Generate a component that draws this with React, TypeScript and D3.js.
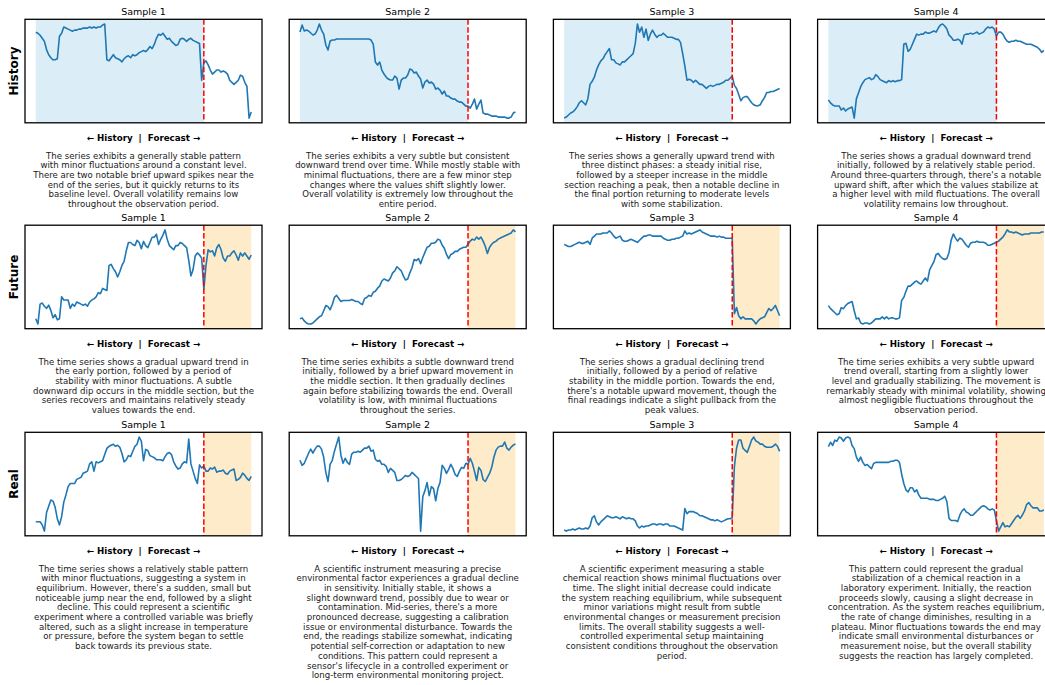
import { scaleLinear, extent, line as d3_line } from "d3";

// time axis: 101 evenly spaced steps, history ends at step 78
const STEPS = 100;
const BOUNDARY = 78;

// Row "History"
const hist1 = [90, 89, 87, 84, 81, 73, 68, 65, 63, 63, 64, 86, 89, 95, 94, 93, 92, 91, 92, 92, 93, 93, 94, 94, 94, 95, 94, 95, 94, 95, 95, 97, 98, 63, 62, 65, 68, 65, 64, 63, 61, 64, 66, 67, 65, 68, 67, 68, 70, 71, 72, 71, 73, 76, 74, 78, 84, 88, 87, 89, 86, 83, 84, 81, 79, 77, 78, 83, 84, 83, 81, 83, 84, 82, 81, 80, 79, 43, 60, 62, 58, 53, 49, 51, 53, 53, 51, 52, 51, 49, 43, 41, 39, 41, 43, 48, 47, 41, 37, 6, 12];
const hist2 = [91, 98, 92, 93, 92, 90, 88, 89, 93, 99, 93, 89, 78, 73, 82, 83, 83, 84, 84, 84, 84, 84, 84, 84, 84, 84, 84, 84, 84, 84, 84, 84, 84, 83, 79, 61, 58, 61, 53, 49, 46, 44, 43, 43, 47, 45, 34, 43, 45, 45, 48, 54, 53, 50, 51, 47, 44, 35, 41, 43, 40, 41, 39, 34, 35, 33, 29, 32, 27, 27, 25, 24, 24, 22, 21, 21, 19, 17, 17, 15, 19, 24, 14, 19, 23, 10, 9, 9, 8, 7, 7, 7, 6, 6, 6, 6, 5, 5, 6, 10, 11];
const hist3 = [6, 7, 9, 11, 12, 14, 17, 21, 23, 21, 19, 25, 39, 42, 46, 53, 58, 62, 64, 68, 71, 74, 63, 63, 60, 59, 58, 61, 61, 63, 65, 67, 69, 79, 98, 90, 95, 85, 93, 82, 88, 92, 88, 85, 87, 87, 89, 87, 85, 85, 85, 84, 83, 83, 80, 69, 57, 43, 44, 43, 41, 43, 41, 39, 39, 37, 35, 37, 38, 37, 38, 39, 39, 40, 41, 43, 43, 45, 47, 38, 35, 29, 23, 26, 27, 27, 24, 21, 19, 18, 18, 19, 23, 26, 31, 31, 32, 32, 33, 34, 35];
const hist4 = [24, 21, 19, 18, 18, 18, 14, 16, 13, 15, 16, 17, 6, 25, 31, 37, 41, 44, 45, 46, 44, 45, 49, 47, 44, 43, 42, 41, 43, 42, 43, 42, 43, 43, 44, 79, 80, 72, 74, 79, 84, 89, 88, 89, 89, 91, 90, 90, 91, 92, 91, 95, 98, 99, 97, 94, 88, 86, 83, 83, 84, 83, 79, 88, 89, 89, 90, 89, 90, 91, 89, 90, 91, 94, 96, 95, 96, 94, 87, 91, 91, 89, 85, 82, 81, 82, 82, 83, 82, 82, 81, 80, 79, 79, 79, 78, 77, 76, 74, 71, 73];

// Row "Future"
const fut1 = [12, 7, 26, 27, 24, 22, 25, 20, 13, 16, 11, 12, 33, 30, 30, 30, 22, 26, 24, 28, 27, 26, 25, 26, 24, 28, 30, 31, 33, 37, 36, 41, 40, 39, 63, 64, 60, 57, 52, 57, 63, 67, 77, 85, 85, 83, 82, 87, 85, 79, 86, 82, 80, 85, 90, 90, 93, 83, 88, 92, 97, 88, 82, 80, 78, 82, 82, 85, 84, 82, 80, 68, 53, 59, 72, 75, 73, 70, 40, 63, 78, 76, 77, 72, 80, 83, 78, 70, 67, 72, 72, 75, 77, 73, 68, 75, 72, 75, 72, 69, 73];
const fut2 = [10, 11, 8, 6, 5, 5, 6, 8, 10, 12, 13, 18, 23, 22, 19, 24, 31, 33, 30, 27, 28, 28, 28, 28, 29, 28, 27, 27, 25, 24, 30, 31, 33, 32, 36, 37, 40, 42, 47, 49, 48, 47, 50, 55, 57, 61, 59, 57, 52, 48, 49, 55, 60, 68, 67, 69, 64, 70, 75, 80, 81, 84, 84, 85, 88, 87, 82, 79, 73, 69, 73, 74, 76, 76, 78, 79, 80, 80, 83, 86, 88, 87, 90, 88, 90, 86, 81, 74, 80, 83, 85, 86, 88, 89, 90, 91, 92, 93, 94, 97, 95];
const fut3 = [84, 83, 82, 82, 83, 84, 85, 86, 85, 85, 86, 87, 84, 90, 92, 94, 94, 94, 95, 95, 95, 97, 95, 92, 90, 91, 92, 88, 87, 87, 88, 89, 88, 87, 86, 88, 90, 92, 92, 93, 93, 92, 92, 92, 92, 92, 90, 89, 88, 88, 89, 89, 90, 90, 91, 92, 97, 94, 95, 94, 95, 96, 97, 98, 96, 95, 94, 93, 92, 92, 92, 91, 92, 91, 91, 90, 90, 90, 90, 17, 23, 15, 12, 14, 12, 12, 12, 12, 10, 7, 10, 12, 13, 14, 18, 22, 20, 22, 25, 20, 15];
const fut4 = [23, 20, 18, 16, 14, 15, 21, 20, 23, 25, 26, 27, 18, 10, 11, 6, 5, 6, 6, 5, 6, 8, 10, 10, 10, 12, 10, 12, 10, 11, 11, 10, 10, 11, 28, 31, 37, 42, 42, 44, 46, 47, 45, 44, 47, 50, 47, 58, 62, 66, 73, 74, 71, 69, 68, 69, 75, 87, 93, 89, 86, 89, 88, 85, 82, 80, 84, 85, 85, 86, 85, 85, 85, 84, 82, 82, 83, 84, 85, 86, 88, 90, 93, 97, 95, 95, 94, 95, 94, 93, 92, 93, 93, 93, 94, 94, 94, 94, 94, 95, 95];

// Row "Real"
const real1 = [17, 17, 17, 14, 8, 26, 32, 38, 37, 31, 20, 14, 22, 36, 43, 51, 54, 54, 54, 58, 59, 60, 64, 65, 66, 73, 75, 66, 75, 74, 75, 76, 82, 88, 90, 91, 92, 90, 91, 89, 83, 75, 77, 81, 80, 85, 90, 92, 99, 95, 76, 87, 86, 81, 80, 79, 77, 77, 77, 76, 80, 83, 84, 82, 75, 71, 68, 69, 73, 75, 74, 97, 73, 66, 59, 54, 72, 69, 71, 66, 66, 69, 68, 70, 65, 66, 66, 67, 64, 63, 66, 67, 68, 57, 58, 60, 64, 62, 59, 57, 61];
const real2 = [76, 71, 73, 78, 83, 87, 83, 87, 90, 90, 87, 79, 64, 55, 72, 76, 85, 92, 99, 81, 73, 78, 74, 72, 82, 84, 84, 85, 84, 86, 88, 88, 90, 85, 86, 77, 75, 76, 72, 72, 70, 64, 68, 66, 64, 56, 56, 57, 59, 61, 60, 61, 64, 62, 60, 58, 6, 40, 46, 54, 41, 50, 48, 36, 48, 54, 71, 68, 63, 67, 72, 68, 62, 60, 65, 69, 68, 73, 72, 78, 73, 65, 56, 69, 66, 57, 55, 59, 63, 69, 79, 86, 89, 90, 90, 94, 88, 86, 89, 91, 92];
const real3 = [8, 7, 8, 8, 9, 8, 9, 10, 9, 9, 10, 9, 12, 20, 22, 16, 13, 16, 18, 20, 22, 21, 20, 20, 21, 20, 19, 21, 20, 19, 20, 19, 19, 17, 12, 10, 12, 11, 12, 12, 13, 14, 14, 13, 14, 14, 13, 14, 14, 12, 12, 12, 11, 10, 9, 8, 29, 24, 26, 26, 26, 25, 24, 22, 22, 21, 20, 19, 18, 18, 17, 18, 17, 16, 17, 18, 19, 19, 20, 70, 88, 96, 96, 88, 86, 84, 90, 96, 99, 95, 94, 92, 92, 90, 89, 89, 89, 90, 92, 90, 85];
const real4 = [87, 91, 88, 93, 92, 96, 95, 92, 95, 96, 95, 88, 85, 77, 73, 77, 72, 69, 70, 68, 66, 71, 72, 72, 72, 72, 72, 72, 72, 73, 73, 74, 74, 72, 61, 52, 46, 44, 48, 48, 44, 46, 41, 38, 38, 38, 38, 37, 37, 37, 36, 36, 37, 38, 40, 35, 19, 17, 17, 17, 16, 22, 26, 28, 25, 24, 22, 22, 24, 26, 28, 30, 31, 30, 28, 27, 28, 27, 17, 7, 11, 15, 11, 12, 11, 14, 17, 20, 22, 19, 22, 26, 32, 34, 31, 29, 29, 29, 26, 26, 27];

const rowLabels = ["History", "Future", "Real"];
const sampleTitles = ["Sample 1", "Sample 2", "Sample 3", "Sample 4"];

const capH1 = ["The series exhibits a generally stable pattern", "with minor fluctuations around a constant level.", "There are two notable brief upward spikes near the", "end of the series, but it quickly returns to its", "baseline level. Overall volatility remains low", "throughout the observation period."];
const capH2 = ["The series exhibits a very subtle but consistent", "downward trend over time. While mostly stable with", "minimal fluctuations, there are a few minor step", "changes where the values shift slightly lower.", "Overall volatility is extremely low throughout the", "entire period."];
const capH3 = ["The series shows a generally upward trend with", "three distinct phases: a steady initial rise,", "followed by a steeper increase in the middle", "section reaching a peak, then a notable decline in", "the final portion returning to moderate levels", "with some stabilization."];
const capH4 = ["The series shows a gradual downward trend", "initially, followed by a relatively stable period.", "Around three-quarters through, there's a notable", "upward shift, after which the values stabilize at", "a higher level with mild fluctuations. The overall", "volatility remains low throughout."];
const capF1 = ["The time series shows a gradual upward trend in", "the early portion, followed by a period of", "stability with minor fluctuations. A subtle", "downward dip occurs in the middle section, but the", "series recovers and maintains relatively steady", "values towards the end."];
const capF2 = ["The time series exhibits a subtle downward trend", "initially, followed by a brief upward movement in", "the middle section. It then gradually declines", "again before stabilizing towards the end. Overall", "volatility is low, with minimal fluctuations", "throughout the series."];
const capF3 = ["The series shows a gradual declining trend", "initially, followed by a period of relative", "stability in the middle portion. Towards the end,", "there's a notable upward movement, though the", "final readings indicate a slight pullback from the", "peak values."];
const capF4 = ["The time series exhibits a very subtle upward", "trend overall, starting from a slightly lower", "level and gradually stabilizing. The movement is", "remarkably steady with minimal volatility, showing", "almost negligible fluctuations throughout the", "observation period."];
const capR1 = ["The time series shows a relatively stable pattern", "with minor fluctuations, suggesting a system in", "equilibrium. However, there's a sudden, small but", "noticeable jump near the end, followed by a slight", "decline. This could represent a scientific", "experiment where a controlled variable was briefly", "altered, such as a slight increase in temperature", "or pressure, before the system began to settle", "back towards its previous state."];
const capR2 = ["A scientific instrument measuring a precise", "environmental factor experiences a gradual decline", "in sensitivity. Initially stable, it shows a", "slight downward trend, possibly due to wear or", "contamination. Mid-series, there's a more", "pronounced decrease, suggesting a calibration", "issue or environmental disturbance. Towards the", "end, the readings stabilize somewhat, indicating", "potential self-correction or adaptation to new", "conditions. This pattern could represent a", "sensor's lifecycle in a controlled experiment or", "long-term environmental monitoring project."];
const capR3 = ["A scientific experiment measuring a stable", "chemical reaction shows minimal fluctuations over", "time. The slight initial decrease could indicate", "the system reaching equilibrium, while subsequent", "minor variations might result from subtle", "environmental changes or measurement precision", "limits. The overall stability suggests a well-", "controlled experimental setup maintaining", "consistent conditions throughout the observation", "period."];
const capR4 = ["This pattern could represent the gradual", "stabilization of a chemical reaction in a", "laboratory experiment. Initially, the reaction", "proceeds slowly, causing a slight decrease in", "concentration. As the system reaches equilibrium,", "the rate of change diminishes, resulting in a", "plateau. Minor fluctuations towards the end may", "indicate small environmental disturbances or", "measurement noise, but the overall stability", "suggests the reaction has largely completed."];

const rows = [
  { label: rowLabels[0], shade: "history", series: [hist1, hist2, hist3, hist4], captions: [capH1, capH2, capH3, capH4] },
  { label: rowLabels[1], shade: "forecast", series: [fut1, fut2, fut3, fut4], captions: [capF1, capF2, capF3, capF4] },
  { label: rowLabels[2], shade: "forecast", series: [real1, real2, real3, real4], captions: [capR1, capR2, capR3, capR4] },
];

// layout
const W = 237;
const H = 103.5;
const colX = [25, 289.2, 553.4, 817.6];
const rowY = [19.3, 225.2, 432.3];
const FONT = "DejaVu Sans, sans-serif";

function Panel({ x0, y0, values, shade, title, caption, id }: {
  x0: number; y0: number; values: number[]; shade: string; title: string; caption: string[]; id: string;
}) {
  const xScale = scaleLinear().domain([-0.05 * STEPS, 1.05 * STEPS]).range([x0, x0 + W]);
  const [lo, hi] = extent(values) as [number, number];
  const pad = (hi - lo) * 0.05;
  const yScale = scaleLinear().domain([lo - pad, hi + pad]).range([y0 + H, y0]);
  const path = d3_line<number>().x((_, i) => xScale(i)).y((d) => yScale(d))(values) ?? "";

  const shadeX0 = shade === "history" ? xScale(0) : xScale(BOUNDARY);
  const shadeX1 = shade === "history" ? xScale(BOUNDARY) : xScale(STEPS);
  const cx = x0 + W / 2;

  return (
    <g>
      <clipPath id={id}>
        <rect x={x0} y={y0} width={W} height={H} />
      </clipPath>
      <rect x={x0} y={y0} width={W} height={H} fill="#fff" />
      <g clipPath={`url(#${id})`}>
        <rect x={shadeX0} y={y0} width={shadeX1 - shadeX0} height={H} fill={shade === "history" ? "#dbeef8" : "#fdebca"} />
        <path d={path} fill="none" stroke="#1f77b4" strokeWidth={1.6} strokeLinejoin="round" />
        <line x1={xScale(BOUNDARY)} x2={xScale(BOUNDARY)} y1={y0} y2={y0 + H} stroke="#ff0000" strokeWidth={1.5} strokeDasharray="5.5,2.4" />
      </g>
      <rect x={x0} y={y0} width={W} height={H} fill="none" stroke="#000" strokeWidth={1.3} />
      <text x={cx} y={y0 - 4} textAnchor="middle" fontSize={9.5} fontFamily={FONT} fill="#000">{title}</text>
      <text x={cx} y={y0 + H + 18} textAnchor="middle" fontSize={8.7} fontWeight="bold" fontFamily={FONT} fill="#000" style={{ whiteSpace: "pre" }}>
        {"← History  |  Forecast →"}
      </text>
      <text textAnchor="middle" fontSize={8.6} fontFamily={FONT} fill="#1a1a1a">
        {caption.map((ln, i) => (
          <tspan key={i} x={cx} y={y0 + H + 36 + i * 9.67}>{ln}</tspan>
        ))}
      </text>
    </g>
  );
}

export default function App() {
  return (
    <svg width={1045} height={685} style={{ position: "absolute", left: 0, top: 0, background: "#fff" }}>
      <rect width={1045} height={685} fill="#fff" />
      {rows.map((row, r) => (
        <g key={r}>
          <text
            transform={`translate(${13.5},${rowY[r] + H / 2}) rotate(-90)`}
            textAnchor="middle"
            dominantBaseline="central"
            fontSize={12}
            fontWeight="bold"
            fontFamily={FONT}
          >
            {row.label}
          </text>
          {row.series.map((vals, c) => (
            <Panel
              key={c}
              id={`clip-${r}-${c}`}
              x0={colX[c]}
              y0={rowY[r]}
              values={vals}
              shade={row.shade}
              title={sampleTitles[c]}
              caption={row.captions[c]}
            />
          ))}
        </g>
      ))}
    </svg>
  );
}
